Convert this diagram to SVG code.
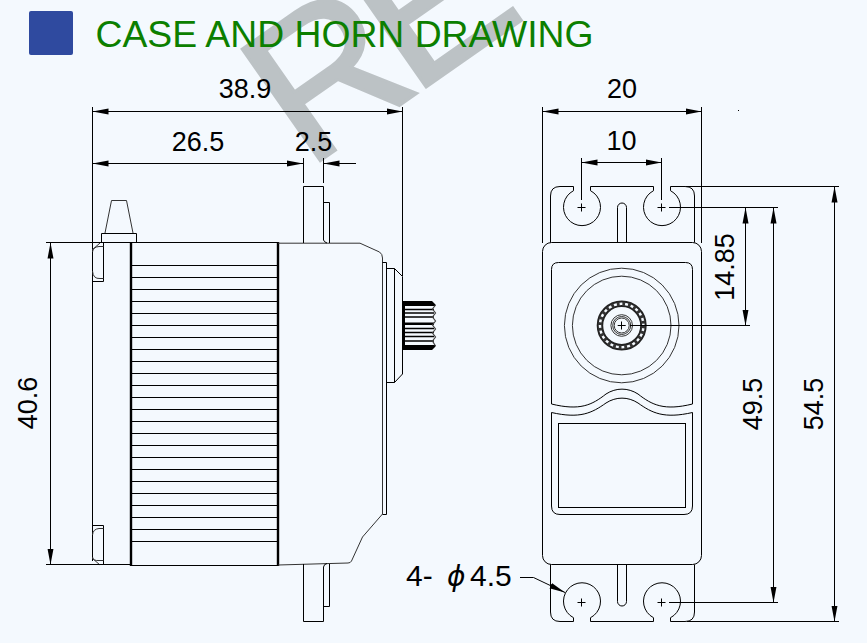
<svg xmlns="http://www.w3.org/2000/svg" width="867" height="643" viewBox="0 0 867 643">
<style>
text{font-family:"Liberation Sans",Arial,sans-serif;fill:#000}
.d{font-size:27px;text-anchor:middle}
.t{font-size:37.3px;fill:#0c7f00}
.w{font-size:198px;fill:#bcc2c5;stroke:#bcc2c5;stroke-width:3}
.l{fill:none;stroke:#000;stroke-width:1}
.g{fill:none;stroke:#333;stroke-width:1}
.k{fill:none;stroke:#000;stroke-width:2.4}
.a{fill:none;stroke:#000;stroke-width:1;marker-start:url(#ah);marker-end:url(#ah)}
.e{fill:none;stroke:#000;stroke-width:1;marker-end:url(#ah)}
</style>
<defs>
<marker id="ah" markerUnits="userSpaceOnUse" markerWidth="17" markerHeight="8" refX="16" refY="4" orient="auto-start-reverse"><path d="M0,1 L16,4 L0,7 Z" fill="#000"/></marker>
</defs>
<rect width="867" height="643" fill="#f4f9fe"/>
<g id="watermark">
<text class="w" transform="translate(307 170) rotate(-35)">R</text>
<text class="w" transform="translate(412 97) rotate(-35) scale(1.08 1)">E</text>
</g>
<g id="title">
<rect x="29" y="11" width="44" height="44" rx="2" fill="#2f4a9f"/>
<text class="t" x="95.500" y="47">CASE AND HORN DRAWING</text>
</g>
<g id="side-view">
<path class="l" d="M92.500 107V561"/>
<path class="l" d="M101.500 233.500H136.500V242.500H101.500Z"/>
<path class="g" d="M105 233L111.500 200.500H126.500L133 233"/>
<path class="l" d="M92.500 281.500H103.500V242.500"/>
<path class="g" d="M103.500 246.500H99Q93 247 92.500 252M92.500 271Q93 279 100 278.500H103.500M92 250L100 243"/>
<path class="l" d="M92.500 525.500H103.500V564"/>
<path class="g" d="M103.500 528.500H99Q93 529 92.500 535M92.500 557Q93 561 99 560.500H103.500M92 558L100 565"/>
<path class="l" d="M46 242.500H278M46 564.500H131"/>
<path class="l" d="M131 565.500H278"/>
<path class="k" d="M131 242V566M278 242V566"/>
<path class="l" d="M131 265.500H278M131 277.500H278M131 289.500H278M131 301.500H278M131 313.500H278M131 325.500H278M131 337.500H278M131 349.500H278M131 361.500H278M131 373.500H278M131 385.500H278M131 397.500H278M131 409.500H278M131 421.500H278M131 433.500H278M131 445.500H278M131 457.500H278M131 469.500H278M131 481.500H278M131 493.500H278M131 505.500H278M131 517.500H278M131 529.500H278M131 541.500H278"/>
<path class="g" d="M278 243.200H360L379.500 252Q382.500 254 382.500 258V514L362.500 537L351.500 561Q350.500 563 348 563L278 565"/>
<path class="l" d="M303.500 243V186.500H323.500V240Q324 242 327 243M323.500 202.500H329.500V243"/>
<path class="l" d="M303.500 564V621.500H323.500V567Q324 564 327 563.500M323.500 606.500H329.500V564"/>
<path class="l" d="M382.500 262.500H386.500V514.500H382.500"/>
<path class="l" d="M386.500 268.500H394.500V382.500H386.500M394.500 268.500L402.500 276.500V374L394.500 382.500"/>
<path fill="#000" d="M402 301H432L435.500 304.500V306H402ZM402 322.500H434V325H402ZM402 345H435.500V346.500L432 350H402ZM402 306H405V345H402Z"/>
<path fill="none" stroke="#000" stroke-width="1.500" d="M405 309.500H434M405 313H434M405 317H434M405 328.500H434M405 332.500H434M405 336.500H434M405 341H434"/>
<path fill="none" stroke="#444" stroke-width="1.200" d="M435.500 305L432.500 309L435.500 313L432.500 317L435.500 321L432.500 325L435.500 329L432.500 333L435.500 337L432.500 341L435.500 346"/>
</g>
<g id="front-view">
<path class="l" d="M550.500 242.500V196Q550.500 186.500 560 186.500H573.500V190.700A18.500 18.500 0 1 0 590.500 190.700V186.500H653.500V190.700A18.500 18.500 0 1 0 670.500 190.700V186.500H685Q694.500 186.500 694.500 196V242.500"/>
<path class="l" d="M617.500 242.500V207.500A4.500 4.500 0 0 1 626.500 207.500V242.500"/>
<rect class="l" x="542.500" y="242.500" width="159" height="322" rx="9"/>
<path class="l" d="M550.500 564.500V612Q550.500 621.500 560 621.500H573.500V617.700A18.500 18.500 0 1 1 590.500 617.700V621.500H653.500V617.700A18.500 18.500 0 1 1 670.500 617.700V621.500H685Q694.500 621.500 694.500 612V564.500"/>
<path class="l" d="M617.500 564.500V601.500A4.500 4.500 0 0 0 626.500 601.500V564.500"/>
<path class="l" d="M551.500 404V269.500Q551.500 262.500 558.500 262.500H685.500Q692.500 262.500 692.500 269.500V404"/>
<path class="l" d="M551.500 404C580 411 592 405 606 394C616 387.500 628 387.500 638 394C652 405 664 411 692.500 404"/>
<path class="l" d="M551.500 412.500C580 419 592 413 606 403C616 396.500 628 396.500 638 403C652 413 664 419 692.500 412.500"/>
<path class="l" d="M551.500 412.500V506Q551.500 514.500 560 514.500H684Q692.500 514.500 692.500 506V412.500"/>
<rect class="l" x="558.500" y="423.500" width="127" height="84"/>
<g class="g">
<circle cx="621.700" cy="325.500" r="57.300"/>
<circle cx="621.700" cy="325.500" r="49.300"/>
<circle cx="621.700" cy="325.500" r="10.800"/>
<circle cx="621.700" cy="325.500" r="9"/>
<circle cx="621.700" cy="325.500" r="7.500"/>
</g>
<circle cx="621.700" cy="325.500" r="24" fill="none" stroke="#222" stroke-width="2"/>
<circle cx="621.700" cy="325.500" r="19.500" fill="none" stroke="#222" stroke-width="2"/>
<circle cx="621.700" cy="325.500" r="21.800" fill="none" stroke="#333" stroke-width="4" stroke-dasharray="2.800 2.910"/>
<path class="l" d="M617.700 325.500H625.700M621.500 321.500V329.500"/>
<path class="l" d="M577.500 207.500H585.500M581.500 203.500V211.500M657.500 207.500H665.500M661.500 203.500V211.500"/>
<path class="l" d="M577.500 602.500H585.500M581.500 598.500V606.500M657.500 602.500H665.500M661.500 598.500V606.500"/>
</g>
<g id="connectors">
<path class="l" d="M402.500 107V276M542.500 107V243M701.500 107V243"/>
<path class="a" d="M92.500 111.500H402.500"/>
<path class="e" d="M303 163.500H92.500"/>
<path class="e" d="M271 163.500H303"/>
<path class="e" d="M356 163.500H323.500"/>
<path class="l" d="M303.500 158V183M323.500 158V183"/>
<path class="a" d="M50.500 242.500V564.500"/>
<path class="a" d="M542.500 111.500H701.500"/>
<path class="a" d="M581.500 162.500H661.500"/>
<path class="l" d="M581.500 158V200M661.500 158V200"/>
<path class="l" d="M686 186.500H839M669 207.500H778M630 325.500H750M669 602.500H778M687 621.500H839"/>
<path class="a" d="M745.500 207.500V325.500"/>
<path class="a" d="M773.500 207.500V602.500"/>
<path class="a" d="M834.500 186.500V621.500"/>
<path class="e" d="M520 577.500H533.500L565 592.500"/>
<rect x="738" y="110" width="1" height="1" fill="#000"/>
</g>
<g id="labels">
<text class="d" x="245" y="98">38.9</text>
<text class="d" x="198" y="151">26.5</text>
<text class="d" x="313.500" y="151">2.5</text>
<text class="d" x="622" y="98">20</text>
<text class="d" x="621.500" y="150">10</text>
<text class="d" transform="translate(37 403) rotate(-90)">40.6</text>
<text class="d" transform="translate(733.500 267) rotate(-90)">14.85</text>
<text class="d" transform="translate(761.500 404) rotate(-90)">49.5</text>
<text class="d" transform="translate(822.500 404) rotate(-90)">54.5</text>
<text style="font-size:30px" y="586"><tspan x="406">4-</tspan><tspan x="447" style="font-family:'DejaVu Sans',sans-serif;font-style:oblique;font-size:28px">ϕ</tspan><tspan x="470">4.5</tspan></text>
</g>
</svg>
